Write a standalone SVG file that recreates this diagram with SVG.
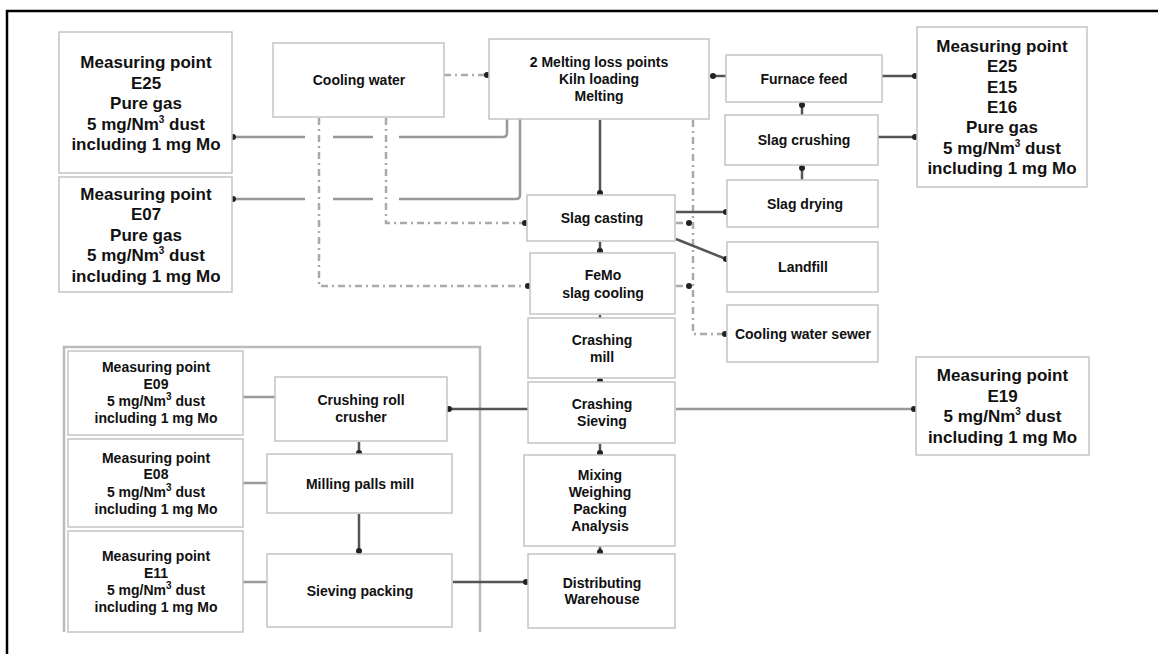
<svg xmlns="http://www.w3.org/2000/svg" width="1158" height="654" viewBox="0 0 1158 654">
<defs>
<marker id="dot" markerUnits="userSpaceOnUse" markerWidth="8" markerHeight="8" refX="4" refY="4" orient="auto"><circle cx="4" cy="4" r="3" fill="#222"/></marker>
<style>
.box{fill:#fff;stroke:#c4c4c4;stroke-width:1.5}
.t{font-family:"Liberation Sans",Arial,sans-serif;font-weight:bold;fill:#111;text-anchor:middle;font-size:14px}
.big{font-size:17px}
.sup{font-size:10px}
.solid{fill:none;stroke:#555;stroke-width:2.5}
.gray{fill:none;stroke:#999;stroke-width:2.5}
.dd{fill:none;stroke:#aaa;stroke-width:2.5;stroke-dasharray:7,4,2,4}
.frame{fill:none;stroke:#bbb;stroke-width:2.5}
</style>
</defs>
<rect x="0" y="0" width="1158" height="654" fill="#fff"/>
<path d="M7,654 V11 H1158" fill="none" stroke="#000" stroke-width="2.5"/>
<path class="frame" d="M64,632 V347 H480 V632"/>

<g id="connectors">
<!-- E25 / E07 gas lines with gaps -->
<path class="gray" d="M233,137 H305 M333,137 H373 M399,137 H503 Q507,137 507,133 V119" marker-start="url(#dot)"/>
<path class="gray" d="M233,199 H305 M333,199 H373 M399,199 H516 Q520,199 520,195 V119" marker-start="url(#dot)"/>
<!-- cooling water dash-dot -->
<path class="dd" d="M444,75 H487" marker-end="url(#dot)"/>
<path class="dd" d="M319,118 V286 H528" marker-end="url(#dot)"/>
<path class="dd" d="M386,118 V223 H525" marker-end="url(#dot)"/>
<path class="dd" d="M693,120 V334 H725" marker-end="url(#dot)"/>
<path class="dd" d="M676,223 H689" marker-end="url(#dot)"/>
<path class="dd" d="M676,286 H689" marker-end="url(#dot)"/>
<!-- main chain -->
<path class="solid" d="M600,120 V193" marker-end="url(#dot)"/>
<path class="solid" d="M600,242 V251" marker-end="url(#dot)"/>
<path class="solid" d="M600,315 V318"/>
<path class="solid" d="M600,379 V381" marker-end="url(#dot)"/>
<path class="solid" d="M600,444 V453" marker-end="url(#dot)"/>
<path class="solid" d="M600,547 V552" marker-end="url(#dot)"/>
<!-- right side -->
<path class="solid" d="M726,76 H713" marker-end="url(#dot)"/>
<path class="solid" d="M882,76 H915" marker-end="url(#dot)"/>
<path class="solid" d="M878,137 H915" marker-end="url(#dot)"/>
<path class="solid" d="M802,115 V105" marker-end="url(#dot)"/>
<path class="solid" d="M802,180 V168" marker-end="url(#dot)"/>
<path class="solid" d="M676,212 H726" marker-end="url(#dot)"/>
<path class="solid" d="M676,239 L726,259" marker-end="url(#dot)"/>
<!-- crashing sieving -->
<path class="gray" d="M676,409 H914" marker-end="url(#dot)"/>
<path class="solid" d="M528,409 H449" marker-end="url(#dot)"/>
<path class="solid" d="M453,582 H526" marker-end="url(#dot)"/>
<!-- bottom left -->
<path class="gray" d="M243,397 H275"/>
<path class="gray" d="M243,483 H267"/>
<path class="gray" d="M243,582 H267"/>
<path class="solid" d="M359,442 V453" marker-end="url(#dot)"/>
<path class="solid" d="M359,514 V551" marker-end="url(#dot)"/>
</g>

<g id="mp-e25-left"><rect class="box" x="59" y="32" width="173" height="141"/>
<text class="t big" x="146" y="68">Measuring point</text>
<text class="t big" x="146" y="88.5">E25</text>
<text class="t big" x="146" y="109">Pure gas</text>
<text class="t big" x="146" y="129.5">5 mg/Nm<tspan class="sup" dy="-7">3</tspan><tspan dy="7"> dust</tspan></text>
<text class="t big" x="146" y="150">including 1 mg Mo</text></g>

<g id="mp-e07"><rect class="box" x="59" y="177" width="173" height="115"/>
<text class="t big" x="146" y="200">Measuring point</text>
<text class="t big" x="146" y="220">E07</text>
<text class="t big" x="146" y="240.5">Pure gas</text>
<text class="t big" x="146" y="261">5 mg/Nm<tspan class="sup" dy="-7">3</tspan><tspan dy="7"> dust</tspan></text>
<text class="t big" x="146" y="281.5">including 1 mg Mo</text></g>

<g id="cooling-water"><rect class="box" x="273" y="43" width="171" height="74"/>
<text class="t" x="359" y="85">Cooling water</text></g>

<g id="melting"><rect class="box" x="489" y="39" width="220" height="80"/>
<text class="t" x="599" y="66.5">2 Melting loss points</text>
<text class="t" x="599" y="83.5">Kiln loading</text>
<text class="t" x="599" y="100.5">Melting</text></g>

<g id="slag-casting"><rect class="box" x="527" y="195" width="148" height="46"/>
<text class="t" x="602" y="223">Slag casting</text></g>

<g id="femo"><rect class="box" x="530" y="253" width="145" height="61"/>
<text class="t" x="603" y="280">FeMo</text>
<text class="t" x="603" y="297.5">slag cooling</text></g>

<g id="furnace-feed"><rect class="box" x="726" y="55" width="156" height="47"/>
<text class="t" x="804" y="83.5">Furnace feed</text></g>

<g id="slag-crushing"><rect class="box" x="725" y="115" width="153" height="50"/>
<text class="t" x="804" y="145">Slag crushing</text></g>

<g id="slag-drying"><rect class="box" x="727" y="180" width="151" height="47"/>
<text class="t" x="805" y="208.5">Slag drying</text></g>

<g id="landfill"><rect class="box" x="727" y="242" width="151" height="50"/>
<text class="t" x="803" y="271.5">Landfill</text></g>

<g id="sewer"><rect class="box" x="727" y="305" width="151" height="57"/>
<text class="t" x="803" y="338.5">Cooling water sewer</text></g>

<g id="mp-right"><rect class="box" x="917" y="27" width="170" height="160"/>
<text class="t big" x="1002" y="52">Measuring point</text>
<text class="t big" x="1002" y="72.3">E25</text>
<text class="t big" x="1002" y="92.6">E15</text>
<text class="t big" x="1002" y="113">E16</text>
<text class="t big" x="1002" y="133.3">Pure gas</text>
<text class="t big" x="1002" y="153.6">5 mg/Nm<tspan class="sup" dy="-7">3</tspan><tspan dy="7"> dust</tspan></text>
<text class="t big" x="1002" y="174">including 1 mg Mo</text></g>

<g id="crashing-mill"><rect class="box" x="528" y="318" width="147" height="60"/>
<text class="t" x="602" y="345">Crashing</text>
<text class="t" x="602" y="361.5">mill</text></g>

<g id="crashing-sieving"><rect class="box" x="528" y="382" width="147" height="61"/>
<text class="t" x="602" y="409">Crashing</text>
<text class="t" x="602" y="425.5">Sieving</text></g>

<g id="mixing"><rect class="box" x="524" y="455" width="151" height="91"/>
<text class="t" x="600" y="479.5">Mixing</text>
<text class="t" x="600" y="496.5">Weighing</text>
<text class="t" x="600" y="513.5">Packing</text>
<text class="t" x="600" y="530.5">Analysis</text></g>

<g id="distributing"><rect class="box" x="528" y="554" width="147" height="74"/>
<text class="t" x="602" y="587.5">Distributing</text>
<text class="t" x="602" y="604">Warehouse</text></g>

<g id="mp-e19"><rect class="box" x="916" y="357" width="173" height="98"/>
<text class="t big" x="1002.5" y="381">Measuring point</text>
<text class="t big" x="1002.5" y="401.5">E19</text>
<text class="t big" x="1002.5" y="422">5 mg/Nm<tspan class="sup" dy="-7">3</tspan><tspan dy="7"> dust</tspan></text>
<text class="t big" x="1002.5" y="442.5">including 1 mg Mo</text></g>

<g id="mp-e09"><rect class="box" x="68" y="351" width="175" height="84"/>
<text class="t" x="156" y="372">Measuring point</text>
<text class="t" x="156" y="389">E09</text>
<text class="t" x="156" y="406">5 mg/Nm<tspan class="sup" dy="-6">3</tspan><tspan dy="6"> dust</tspan></text>
<text class="t" x="156" y="423">including 1 mg Mo</text></g>

<g id="mp-e08"><rect class="box" x="68" y="439" width="175" height="88"/>
<text class="t" x="156" y="462.5">Measuring point</text>
<text class="t" x="156" y="479">E08</text>
<text class="t" x="156" y="496.5">5 mg/Nm<tspan class="sup" dy="-6">3</tspan><tspan dy="6"> dust</tspan></text>
<text class="t" x="156" y="514">including 1 mg Mo</text></g>

<g id="mp-e11"><rect class="box" x="68" y="531" width="175" height="101"/>
<text class="t" x="156" y="561">Measuring point</text>
<text class="t" x="156" y="578">E11</text>
<text class="t" x="156" y="595">5 mg/Nm<tspan class="sup" dy="-6">3</tspan><tspan dy="6"> dust</tspan></text>
<text class="t" x="156" y="612">including 1 mg Mo</text></g>

<g id="crusher"><rect class="box" x="275" y="377" width="172" height="64"/>
<text class="t" x="361" y="405">Crushing roll</text>
<text class="t" x="361" y="421.5">crusher</text></g>

<g id="milling"><rect class="box" x="267" y="454" width="185" height="59"/>
<text class="t" x="360" y="488.5">Milling palls mill</text></g>

<g id="sieving-packing"><rect class="box" x="267" y="554" width="185" height="73"/>
<text class="t" x="360" y="596">Sieving packing</text></g>
</svg>
